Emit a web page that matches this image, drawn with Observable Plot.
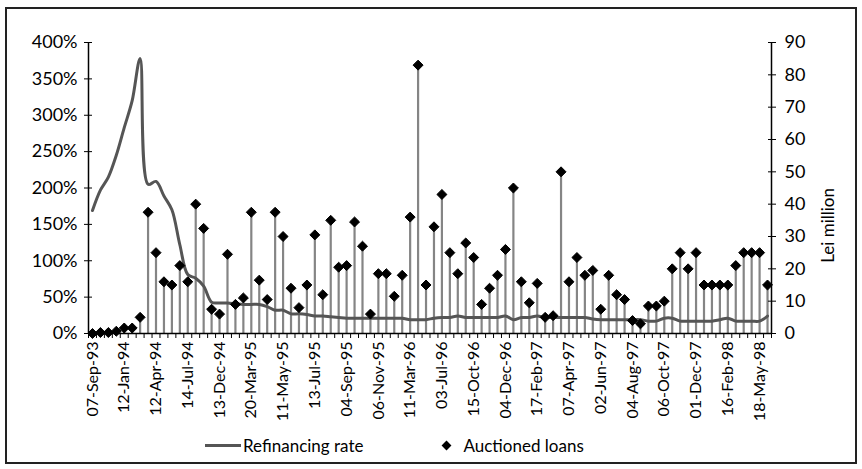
<!DOCTYPE html>
<html>
<head>
<meta charset="utf-8">
<script src="https://cdn.jsdelivr.net/npm/d3@7"></script>
<script src="https://cdn.jsdelivr.net/npm/@observablehq/plot@0.6"></script>
<style>
  html, body { margin: 0; padding: 0; background: #fff; }
  body { width: 862px; height: 469px; position: relative; overflow: hidden; font-family: Lato, "Open Sans", sans-serif; }
  #frame { position: absolute; left: 5px; top: 7px; width: 848px; height: 453px; border: 2px solid #222; }
  #chart { position: absolute; left: 0; top: 0; }
  #legend { position: absolute; top: 435px; left: 205px; font-size: 17px; color: #000; display: flex; align-items: center; }
  .sw-line { display: inline-block; width: 36px; height: 3px; background: #555; margin-right: 2px; }
  .sw-dia { display: inline-block; width: 7px; height: 7px; background: #000; transform: rotate(45deg); margin-left: 80px; margin-right: 13px; }
</style>
</head>
<body>
<div id="frame"></div>
<div id="chart"></div>
<div id="legend"><span class="sw-line"></span><span>Refinancing rate</span><span class="sw-dia"></span><span>Auctioned loans</span></div>
<script>
// Tick labels shown every 4th category
const tickLabels = ["07-Sep-93","12-Jan-94","12-Apr-94","14-Jul-94","13-Dec-94","20-Mar-95","11-May-95","13-Jul-95","04-Sep-95","06-Nov-95","11-Mar-96","03-Jul-96","15-Oct-96","04-Dec-96","17-Feb-97","07-Apr-97","02-Jun-97","04-Aug-97","06-Oct-97","01-Dec-97","16-Feb-98","18-May-98"];

// Refinancing rate (%), one value per auction date
const rate = [169,197,215,245,283,320,378,205,209,189,
              170,122,81,76,65,43,42,42,41,40,
              40,40,37,32,32,27,27,26,24,24,
              23,22,21,21,21,21,21,21,21,21,
              19,19,19,21,22,22,24,22,22,22,
              22,22,24,19,22,22,24,22,22,22,
              22,22,22,20,19,19,19,19,19,19,
              17,17,21,21,17,17,17,17,17,19,
              21,17,17,17,17,24];

// Auctioned loans (Lei million)
const loans = [0,0.3,0.3,0.7,1.7,1.7,5,37.5,25,16,
               15,21,16,40,32.5,7.5,6,24.5,9,11,
               37.5,16.5,10.5,37.5,30,14,8,15,30.5,12,
               35,20.5,21,34.5,27,6,18.5,18.5,11.5,18,
               36,83,15,33,43,25,18.5,28,23.5,9,
               14,18,26,45,16,9.5,15.5,5,5.5,50,
               16,23.5,18,19.5,7.5,18,12,10.5,4,3,
               8.5,8.5,10,20,25,20,25,15,15,15,
               15,21,25,25,25,15];

const leftTicks = [0,50,100,150,200,250,300,350,400];
const rightTicks = [0,10,20,30,40,50,60,70,80,90];

const k = 400 / 90; // Lei million -> left-axis units
const n = loans.length;
const data = d3.range(n).map(i => ({i, rate: rate[i], loan: loans[i] * k}));
const bounds = d3.range(-1, n).map(i => i + 0.5);
const labelIdx = tickLabels.map((_, j) => j * 4);

const chart = Plot.plot({
  width: 862, height: 423,
  marginLeft: 88, marginRight: 91, marginTop: 42, marginBottom: 90,
  x: {type: "linear", domain: [-0.5, n - 0.5], axis: null},
  y: {domain: [0, 400], axis: null},
  style: {fontFamily: "Lato, 'Open Sans', sans-serif", fontSize: "18px", color: "#000", background: "transparent", overflow: "visible"},
  marks: [
    Plot.ruleX(data, {x: "i", y1: 0, y2: "loan", stroke: "#858585", strokeWidth: 2.2}),
    Plot.line(data, {x: "i", y: "rate", stroke: "#555", strokeWidth: 3, curve: "catmull-rom"}),
    Plot.dot(data, {x: "i", y: "loan", symbol: "diamond2", r: 4.5, fill: "#000", stroke: "#000", strokeWidth: 1}),
    Plot.ruleX([-0.5], {y1: 0, y2: 400, stroke: "#000", strokeWidth: 1.5}),
    Plot.ruleX([n - 0.5], {y1: 0, y2: 400, stroke: "#000", strokeWidth: 1.5}),
    Plot.ruleY([0], {stroke: "#000", strokeWidth: 1.5}),
    Plot.axisX({ticks: bounds, tickSize: 5, tickFormat: () => "", stroke: "#000", label: null}),
    Plot.axisX({ticks: labelIdx, tickSize: 0, tickPadding: 8, tickRotate: -90, fontSize: 16,
                tickFormat: i => tickLabels[Math.round(i / 4)], label: null}),
    Plot.axisY({ticks: leftTicks, anchor: "left", tickSize: 8, dx: 4, tickPadding: 7,
                tickFormat: d => d + "%", label: null}),
    Plot.axisY({ticks: rightTicks.map(v => v * k), anchor: "right", tickSize: 8, dx: -4, tickPadding: 9,
                tickFormat: d => String(Math.round(d / k)), label: null}),
    Plot.text(["Lei million"], {frameAnchor: "right", dx: 57, rotate: -90, fontSize: 17})
  ]
});
document.getElementById("chart").appendChild(chart);
</script>
</body>
</html>
